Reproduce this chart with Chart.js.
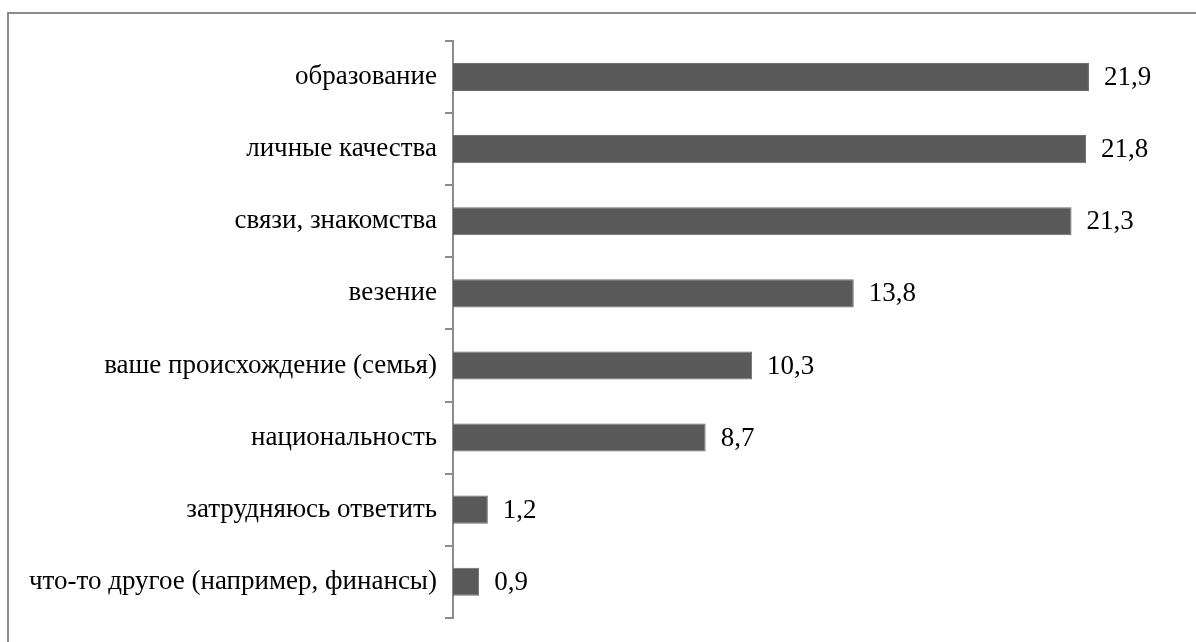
<!DOCTYPE html>
<html>
<head>
<meta charset="utf-8">
<script src="https://cdn.jsdelivr.net/npm/chart.js@4/dist/chart.umd.min.js"></script>
<style>
  html, body { margin: 0; padding: 0; background: #fff; overflow: hidden; }
  #frame {
    position: absolute; left: 7px; top: 12px; width: 1300px; height: 700px;
    border-top: 2px solid #8c8c8c; border-left: 2px solid #8c8c8c;
  }
  #wrap { position: absolute; left: 0; top: 0; width: 1196px; height: 642px; }
</style>
</head>
<body>
<div id="frame"></div>
<div id="wrap"><canvas id="canvas"></canvas></div>
<script>
'use strict';

var categories = [
	'образование',
	'личные качества',
	'связи, знакомства',
	'везение',
	'ваше происхождение (семья)',
	'национальность',
	'затрудняюсь ответить',
	'что-то другое (например, финансы)'
];
var values = [21.9, 21.8, 21.3, 13.8, 10.3, 8.7, 1.2, 0.9];

var fontFamily = '"Liberation Serif", "Times New Roman", serif';

// value labels right of each bar
var valueLabels = {
	id: 'valueLabels',
	afterDatasetsDraw: function(chart) {
		var ctx = chart.ctx;
		var meta = chart.getDatasetMeta(0);
		ctx.save();
		ctx.font = '27px ' + fontFamily;
		ctx.fillStyle = '#000';
		ctx.textAlign = 'left';
		ctx.textBaseline = 'middle';
		for (var i = 0; i < meta.data.length; i++) {
			var bar = meta.data[i];
			ctx.fillText(values[i].toFixed(1).replace('.', ','), bar.x + 15, bar.y + 1);
		}
		ctx.restore();
	}
};

var config = {
	type: 'bar',
	data: {
		labels: categories,
		datasets: [{
			data: values,
			backgroundColor: '#595959',
			borderColor: '#6e6e6e',
			borderWidth: 1,
			categoryPercentage: 1,
			barPercentage: 0.39
		}]
	},
	options: {
		indexAxis: 'y',
		responsive: false,
		animation: false,
		layout: { padding: { top: 41, bottom: 23, left: 0, right: 17 } },
		plugins: {
			legend: { display: false },
			tooltip: { enabled: false }
		},
		scales: {
			x: {
				display: false,
				min: 0,
				max: 25
			},
			y: {
				afterFit: function(scale) { scale.width = 453; },
				grid: {
					display: true,
					drawOnChartArea: false,
					drawTicks: true,
					tickLength: 8,
					color: '#8c8c8c',
					lineWidth: 2,
					offset: true
				},
				border: { display: true, color: '#8c8c8c', width: 2 },
				ticks: {
					color: '#000',
					padding: 8,
					font: { family: fontFamily, size: 27 }
				}
			}
		}
	},
	plugins: [valueLabels]
};

var canvas = document.getElementById('canvas');
canvas.width = 1196;
canvas.height = 642;
var ctx = canvas.getContext('2d');
window.mychart = new Chart(ctx, config);
</script>
</body>
</html>
